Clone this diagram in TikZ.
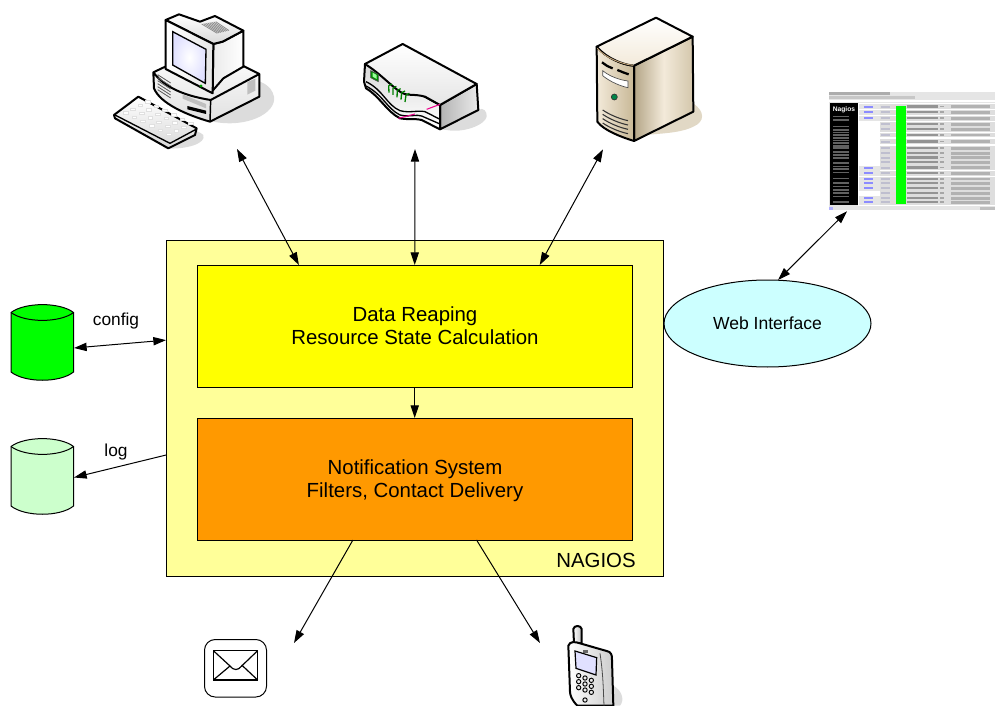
\documentclass[tikz,border=0pt]{standalone}
\usepackage{fontspec}
\setmainfont{Liberation Sans}
\usetikzlibrary{arrows.meta,calc,shapes.geometric}
\definecolor{nagios}{HTML}{FFFF99}
\definecolor{reap}{HTML}{FFFF00}
\definecolor{notif}{HTML}{FF9900}
\definecolor{webc}{HTML}{CCFFFF}
\definecolor{cfgc}{HTML}{00FF00}
\definecolor{logc}{HTML}{CCFFCC}
\definecolor{shad}{HTML}{DCDCDC}
\definecolor{tan1}{HTML}{F3EADA}
\definecolor{tan2}{HTML}{C8B896}
\tikzset{
  panel/.style={draw=black,line width=0.75pt,anchor=north west,inner sep=0pt,outer sep=0pt,align=center},
  lab/.style={inner sep=0pt,font=\fontsize{13pt}{15pt}\selectfont},
  big/.style={font=\fontsize{15.3pt}{17.3pt}\selectfont},
  link/.style={line width=0.75pt,{Triangle[length=9.5pt,width=6.2pt]}-{Triangle[length=9.5pt,width=6.2pt]}},
  oneway/.style={line width=0.75pt,-{Triangle[length=9.5pt,width=6.2pt]}},
  spot/.style={inner sep=0pt,outer sep=0pt,anchor=north west},
  ico/.style={draw=black,line width=1.5pt,line join=round},
}
\begin{document}
\begin{tikzpicture}[x=0.75pt,y=-0.75pt]
\useasboundingbox (0,0) rectangle (996,706);
% ---------- main boxes
\node[panel,fill=nagios,minimum width=372.75pt,minimum height=252pt] (nagiosbox) at (166,240) {};
\node[panel,fill=reap,minimum width=326.6pt,minimum height=91.5pt] (reapbox) at (197,265) {};
\node[big,align=center] (reaptext) at (415,326) {Data Reaping\\Resource State Calculation};
\node[panel,fill=notif,minimum width=326.6pt,minimum height=91.5pt] (notifbox) at (197,418) {};
\node[big,align=center] (notiftext) at (415,481) {Notification System\\Filters, Contact Delivery};
\node[big,inner sep=0pt] (nagioslabel) at (596,560.5) {NAGIOS};
\node[ellipse,draw=black,line width=0.75pt,fill=webc,minimum width=155.25pt,minimum height=65.25pt,inner sep=0pt,outer sep=0pt] (web) at (767.5,323.5) {};
\node[lab,font=\fontsize{13.15pt}{15pt}\selectfont] (webtext) at (767.5,323.5) {Web Interface};
\node[lab] (configlabel) at (116,321.5) {config};
\node[lab] (loglabel) at (116,452) {log};
% ---------- invisible anchors for the icons
\node[spot,minimum width=105pt,minimum height=110pt] (pc) at (113,12) {};
\node[spot,minimum width=95pt,minimum height=60pt] (router) at (362,42) {};
\node[spot,minimum width=75pt,minimum height=100pt] (server) at (595,15) {};
\node[spot,minimum width=125pt,minimum height=91pt] (shot) at (829,92) {};
\node[spot,minimum width=47.25pt,minimum height=56.25pt] (cfgdb) at (11,305) {};
\node[spot,minimum width=47.25pt,minimum height=55.5pt] (logdb) at (11,439) {};
\node[spot,minimum width=47.25pt,minimum height=43.5pt] (mail) at (204,639) {};
\node[spot,minimum width=37pt,minimum height=60pt] (phone) at (566,625) {};
% ---------- computer
\begin{scope}[shift={(100,0)},scale=1/3]
\fill[shad] (340,365) .. controls (440,385) and (530,340) .. (522,290) .. controls (515,255) and (480,240) .. (440,235) -- cycle;
\fill[shad] (190,445) .. controls (260,450) and (320,430) .. (310,405) .. controls (300,395) and (280,390) .. (270,385) -- cycle;
\shade[top color=white,bottom color=black!12] (160,217) -- (330,150) -- (478,222) -- (478,290) -- (330,365) .. controls (260,345) and (180,310) .. (162,265) -- cycle;
\draw[ico] (160,217) -- (200,198) (430,198) -- (478,222) -- (478,290) -- (330,365) .. controls (260,345) and (180,310) .. (162,265) -- (160,217) .. controls (200,270) and (270,290) .. (332,300) -- (478,222);
\draw[ico,line width=1.1pt] (332,300) -- (330,365);
\foreach \v in {0,1,2,3,4,5} {\draw[black!65,line width=0.6pt] (173,{224+\v*9}) -- (212,{249+\v*9});}
\fill[black!25] (248,283) -- (318,312) -- (318,325) -- (248,296) -- cycle;
\fill[black] (262,318) -- (318,332) -- (318,342) -- (262,328) -- cycle;
\fill[black!25] (442,246) -- (466,236) -- (466,272) -- (442,284) -- cycle;
% monitor
\shade[left color=black!8,right color=white,ico] (368,125) -- (430,92) -- (430,200) -- (370,235) -- (338,272) -- (340,132) -- cycle;
\shade[top color=white,bottom color=black!15,ico] (197,60) -- (237,43) -- (300,65) -- (345,48) -- (430,92) -- (368,125) -- (340,132) -- cycle;
\shade[left color=white,right color=black!10,ico] (197,60) -- (340,132) -- (338,280) -- (197,207) -- cycle;
\shade[inner color=white,outer color=blue!12,draw=black,line width=1pt] (218,95) -- (318,148) -- (316,250) -- (218,195) -- cycle;
\foreach \v in {0,1,2,3,4,5,6,7} {\draw[black!45,line width=0.6pt] ({305+\v*6},{72-\v*1}) -- ({352+\v*5},{100-\v*1.2});}
\fill[green!60!black] (303,258) circle [radius=5];
% keyboard
\shade[top color=white,bottom color=black!15,ico] (42,345) -- (115,290) -- (290,385) -- (285,405) -- (205,445) -- (45,355) -- cycle;
\draw[ico,line width=1pt] (45,345) -- (210,430) -- (288,388);
\foreach \a in {0,...,5} \foreach \b in {0,...,3} {\fill[white,draw=black!12,line width=0.3pt] ({70+\a*26+\b*22},{335+\a*13-\b*11}) rectangle ++(14,7);}
\end{scope}
% ---------- router
\begin{scope}[shift={(350,40)},scale=1/3]
\fill[shad] (270,268) -- (385,210) .. controls (400,200) and (412,215) .. (410,230) .. controls (405,255) and (340,280) .. (290,270) -- cycle;
\shade[left color=black!30,right color=black!8,ico] (270,195) -- (380,132) -- (385,210) -- (270,268) -- cycle;
\shade[top color=black!15,bottom color=white,ico] (45,72) -- (42,125) -- (48,145) .. controls (90,170) and (110,215) .. (150,235) .. controls (180,240) and (200,235) .. (215,240) -- (270,268) -- (270,195) -- cycle;
\shade[top color=white,bottom color=black!10,ico] (45,72) -- (158,12) -- (380,132) -- (270,195) -- (225,170) .. controls (190,160) and (170,170) .. (150,155) .. controls (120,135) and (90,100) .. (45,72) -- cycle;
\draw[black,line width=1pt] (48,125) .. controls (100,150) and (110,195) .. (150,212) .. controls (180,220) and (200,210) .. (225,215) -- (270,238);
\draw[black,line width=1pt] (48,138) .. controls (100,165) and (110,205) .. (150,225) .. controls (180,232) and (200,222) .. (215,228) -- (270,252);
\draw[magenta,line width=0.8pt] (230,208) -- (270,193) (145,235) -- (195,222);
\fill[green!55!black,draw=black!70,line width=0.5pt] (62,92) -- (85,103) -- (85,125) -- (62,113) -- cycle;
\fill[green!40!white] (68,98) -- (80,105) -- (80,117) -- (68,110) -- cycle;
\foreach \a in {0,1,2,3,4} {\draw[green!50!black,line width=1pt] ({116+\a*13},{137+\a*7}) -- ({117+\a*12},{158+\a*7}) ({116+\a*13},{137+\a*7}) -- ({126+\a*13},{132+\a*7});}
\end{scope}
% ---------- server
\begin{scope}[shift={(580,5)},scale=1/3]
\fill[tan2!55] (340,295) .. controls (375,320) and (375,350) .. (340,365) .. controls (300,385) and (240,385) .. (200,390) -- cycle;
\shade[left color=tan2!90!black,right color=tan2!80!white,middle color=tan1,ico] (162,182) -- (338,95) -- (340,320) -- (162,408) -- cycle;
\shade[left color=tan1,right color=tan2,ico] (50,125) .. controls (80,160) and (130,180) .. (162,182) -- (162,408) .. controls (120,395) and (70,375) .. (52,350) -- cycle;
\shade[top color=white,bottom color=tan1,ico] (50,125) -- (228,38) -- (338,95) -- (162,182) .. controls (130,180) and (80,160) .. (50,125) -- cycle;
\draw[tan2!70!brown,line width=0.7pt] (52,130) .. controls (80,162) and (130,178) .. (160,181);
\draw[black,line width=1.7pt] (66,172) .. controls (75,180) and (85,185) .. (98,190) (112,195) .. controls (125,200) and (135,205) .. (146,208);
\fill[white,draw=black!70,line width=0.5pt] (68,197) .. controls (90,215) and (120,225) .. (144,228) -- (144,248) .. controls (120,243) and (90,230) .. (68,212) -- cycle;
\fill[teal!70!green!80!black,draw=black!80,line width=0.5pt] (103,276) circle [radius=9];
\foreach \v in {0,1,2,3} {\draw[black!80,line width=0.8pt] (68,{315+\v*13}) .. controls (90,{330+\v*13}) and (120,{342+\v*13}) .. (144,{347+\v*13});}
\end{scope}
% ---------- web screenshot
\begin{scope}[shift={(820,85)},scale=1/3]
\fill[black!10] (28,22) rectangle (525,375);
\fill[black!32] (28,22) rectangle (210,30);
\fill[black!22] (28,32) rectangle (285,41);
\fill[white] (28,44) rectangle (525,52);
\fill[white] (115,55) rectangle (525,362);
\fill[black] (30,55) rectangle (115,360);
\node[white,inner sep=0pt,font=\fontsize{5pt}{5pt}\bfseries\selectfont] (shottitle) at (72,75) {Nagios};
\foreach \y in {92,103,122,132,140,148,156,164,172,180,186,198,208,216,232,242,250,260,278,292,302,312,322,332,348} {\fill[black!62] (38,\y) rectangle ++(50,5);}
\foreach \y in {65,82,100,118,133,150,170,190,205,218,232,248,265,282,295,310,325,340,352} {
  \fill[black!13] (180,{\y-7}) rectangle (525,{\y+7});
  \fill[black!42] (260,{\y-3.5}) rectangle (355,{\y+3.5});
  \fill[black!30] (392,{\y-4}) rectangle (510,{\y+4});
  \fill[black!35] (360,{\y-2.5}) rectangle (372,{\y+2.5});
  \fill[blue!25!black!25] (182,{\y-3}) rectangle (210,{\y+3});
  \fill[red!30!black!15] (214,{\y-4}) rectangle (228,{\y+4});
}
\foreach \y in {65,82,100,250,265,282,295,310,340,352} {\fill[black!10] (118,{\y-7}) rectangle (180,{\y+7}); \fill[blue!45] (132,{\y-3}) rectangle (160,{\y+3});}
\fill[cfgc] (228,62) rectangle (258,358);
\fill[blue!30] (28,366) rectangle (38,374);
\fill[black!25] (480,366) rectangle (525,374);
\end{scope}
% ---------- databases
\path[fill=cfgc,draw=black,line width=0.75pt] (11,312.5) .. controls (25,302) and (60,302) .. (73.5,312.5) -- (73.5,372) .. controls (60,383) and (25,383) .. (11,372) -- cycle;
\draw[line width=0.75pt] (11,312.5) .. controls (25,323) and (60,323) .. (73.5,312.5);
\path[fill=logc,draw=black,line width=0.75pt] (11,446.5) .. controls (25,436) and (60,436) .. (73.5,446.5) -- (73.5,506) .. controls (60,517) and (25,517) .. (11,506) -- cycle;
\draw[line width=0.75pt] (11,446.5) .. controls (25,457) and (60,457) .. (73.5,446.5);
% ---------- mail
\draw[line width=0.75pt,rounded corners=8pt] (204.5,639.5) rectangle (266.5,697);
\begin{scope}[shift={(190,620)},scale=1/3]
\draw[line width=0.9pt] (70,92) rectangle (203,180);
\draw[line width=0.9pt] (70,92) -- (120,138) .. controls (130,152) and (145,152) .. (155,138) -- (203,92);
\draw[line width=0.9pt] (70,180) -- (120,138) (203,180) -- (155,135);
\end{scope}
% ---------- phone
\begin{scope}[shift={(550,615)},scale=1/3]
\fill[shad] (190,212) .. controls (215,225) and (225,255) .. (210,272) -- (130,272) -- cycle;
\shade[left color=white,right color=black!25,ico] (70,42) .. controls (72,30) and (93,30) .. (95,42) -- (95,85) -- (72,85) -- cycle;
\shade[left color=white,right color=black!20,ico] (55,92) .. controls (60,78) and (75,80) .. (90,85) -- (170,108) .. controls (183,110) and (187,120) .. (186,135) -- (190,272) -- (82,272) .. controls (65,255) and (60,240) .. (60,230) -- cycle;
\draw[black!70,line width=0.6pt] (150,115) .. controls (160,180) and (160,230) .. (162,272);
\fill[black!60] (100,106) rectangle (114,113);
\fill[blue!12,draw=black,line width=0.9pt] (75,108) -- (140,128) -- (138,180) -- (78,160) -- cycle;
\foreach \a in {0,1,2} \foreach \b in {0,1,2} {\fill[black!8,draw=black,line width=0.7pt] ({86+\a*19},{182+\b*18+\a*7}) circle [radius=6.5];}
\fill[black!8,draw=black,line width=0.7pt] (105,255) circle [radius=6.5];
\end{scope}
% ---------- connectors
\coordinate (pcend) at ($(pc.south west)+(124,-9.7)$);
\coordinate (routerend) at ($(router.south west)+(53,27)$);
\coordinate (serverend) at ($(server.south west)+(8,1)$);
\coordinate (shotend) at ($(shot.south west)+(18,-2)$);
\coordinate (webend) at ($(web.north)+(10.5,0)$);
\coordinate (cfgend) at ($(cfgdb.east)+(0,5.5)$);
\coordinate (logend) at ($(logdb.east)+(0,1.5)$);
\coordinate (mailend) at ($(mail.north east)+(27,4)$);
\coordinate (phoneend) at ($(phone.north)+(-50.7,18)$);
\draw[link] (pcend) -- ($(reapbox.north west)!0.234!(reapbox.north east)$);
\draw[link] (routerend) -- (reapbox.north);
\draw[link] (serverend) -- ($(reapbox.north west)!0.787!(reapbox.north east)$);
\draw[link] (shotend) -- (webend);
\draw[link] (cfgend) -- ($(nagiosbox.north west)!0.298!(nagiosbox.south west)$);
\draw[oneway] ($(nagiosbox.north west)!0.64!(nagiosbox.south west)$) -- (logend);
\draw[oneway] (reapbox.south) -- (notifbox.north);
\draw[oneway] ($(notifbox.south west)!0.358!(notifbox.south east)$) -- (mailend);
\draw[oneway] ($(notifbox.south west)!0.642!(notifbox.south east)$) -- (phoneend);
\end{tikzpicture}
\end{document}
